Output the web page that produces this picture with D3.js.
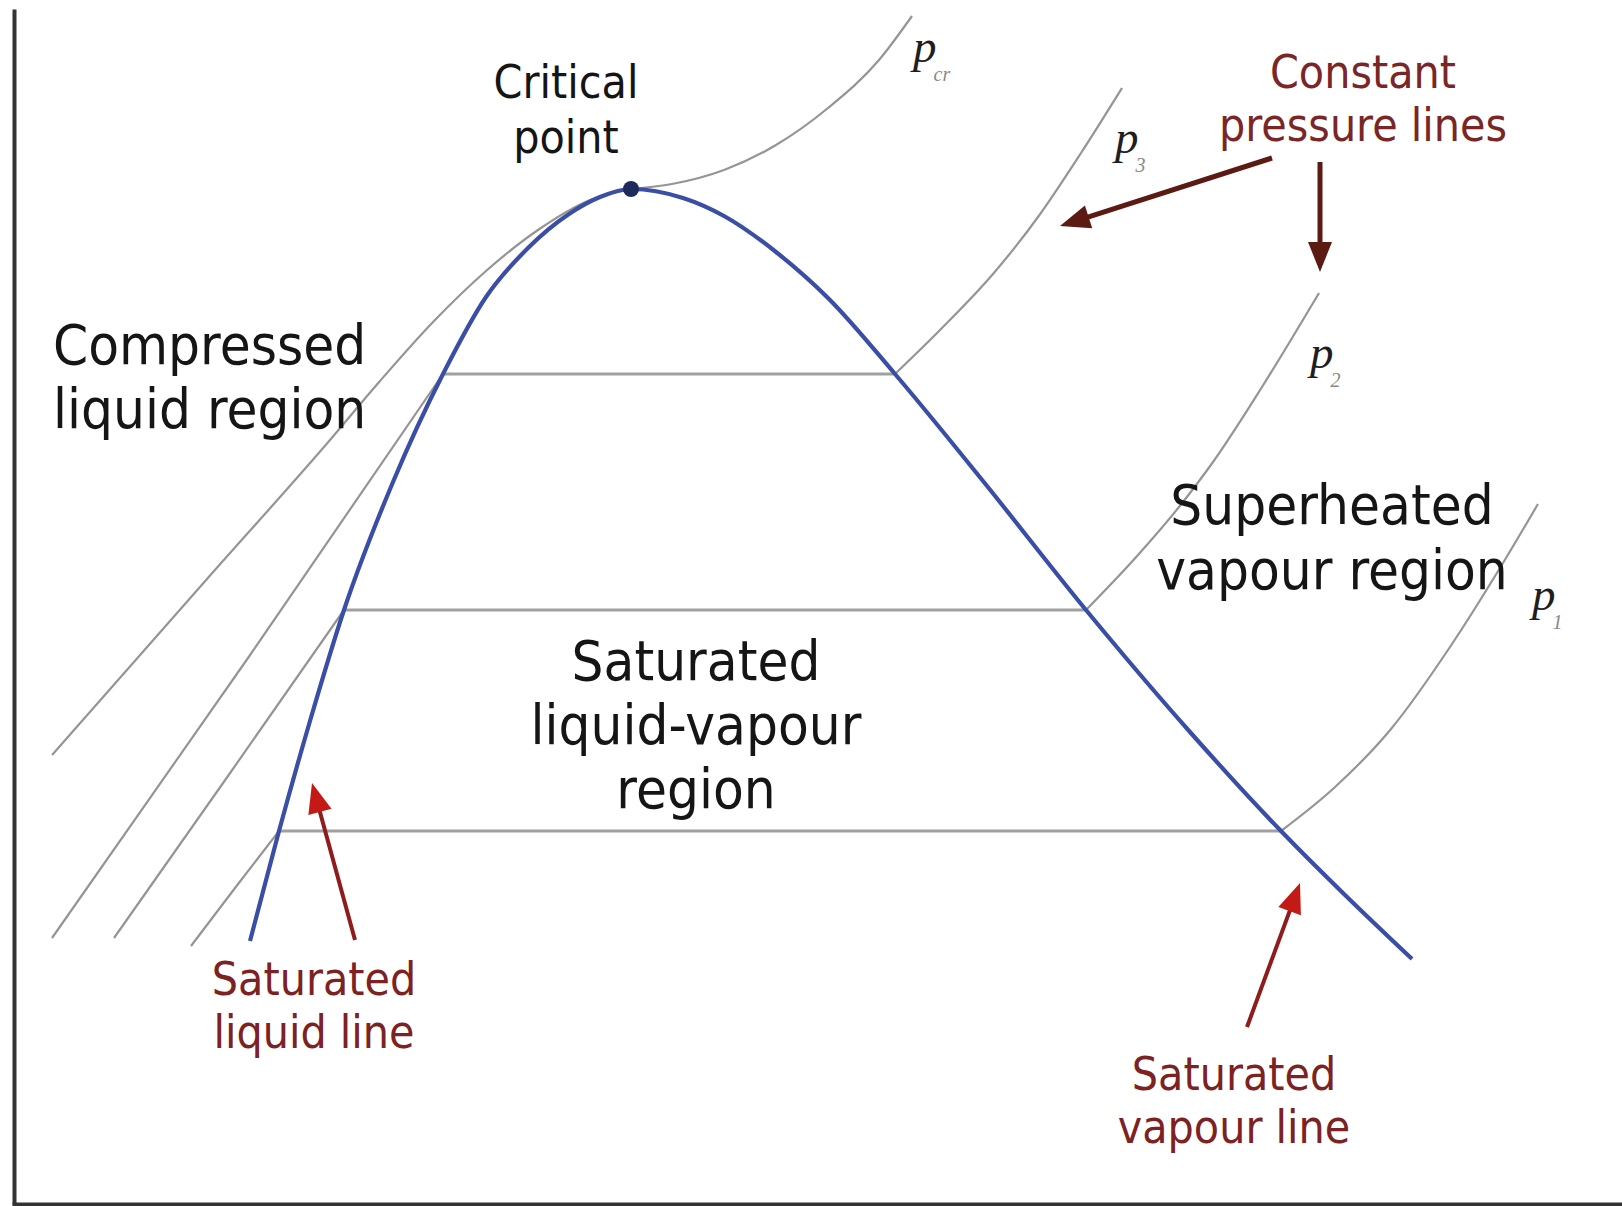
<!DOCTYPE html>
<html><head><meta charset="utf-8">
<script src="https://cdn.jsdelivr.net/npm/d3@7"></script>
<style>html,body{margin:0;padding:0;background:#fff;} svg{display:block;}</style>
</head><body>
<svg id="chart" width="1622" height="1206"></svg>
<script>
// ---------- data (entropy s, temperature T in arbitrary units) ----------
const saturationDome = [
  [1.18,1.315],[1.325,1.865],[1.48,2.415],[1.65,2.97],[1.895,3.61],[2.145,4.15],
  [2.36,4.535],[2.57,4.78],[2.775,4.95],[2.93,5.035],[3.085,5.075],
  [3.345,5.03],[3.55,4.94],[3.81,4.76],[4.07,4.53],[4.405,4.15],[4.845,3.615],
  [5.36,2.97],[5.88,2.36],[6.335,1.865],[6.655,1.545],[6.99,1.225]
];
const criticalPoint = [3.085, 5.075];

const pressureNames = ["cr", "3", "2", "1"];
const satTemps      = [5.075, 4.15, 2.97, 1.865];
const satLiquidS    = [3.085, 2.145, 1.65, 1.325];
const satVapourS    = [3.085, 4.405, 5.36, 6.335];

const pcrLiquid = [[0.19,2.245],[0.965,3.125],[1.58,3.82],[1.83,4.115],[2.1,4.415],[2.36,4.665],[2.62,4.87],[2.88,5.02],[3.085,5.075]];
const pcrVapour = [[3.085,5.075],[3.29,5.1],[3.55,5.17],[3.81,5.295],[4.07,5.48],[4.325,5.72],[4.49,5.94]];
const p3Liquid  = [[0.19,1.33],[1.17,2.73],[2.145,4.15]];
const p3Vapour  = [[4.405,4.15],[4.635,4.375],[4.895,4.65],[5.12,4.935],[5.335,5.255],[5.54,5.58]];
const p2Liquid  = [[0.5,1.33],[1.07,2.14],[1.65,2.97]];
const p2Vapour  = [[5.36,2.97],[5.62,3.245],[5.825,3.485],[5.995,3.71],[6.24,4.085],[6.525,4.555]];
const p1Liquid  = [[0.885,1.29],[1.105,1.58],[1.325,1.865]];
const p1Vapour  = [[6.335,1.865],[6.6,2.08],[6.885,2.375],[7.18,2.785],[7.445,3.205],[7.62,3.5]];

const liquidLines = [pcrLiquid, p3Liquid, p2Liquid, p1Liquid];
const vapourLines = [pcrVapour, p3Vapour, p2Vapour, p1Vapour];
const pressureLabelAt = [[4.495,5.71],[5.505,5.255],[6.48,4.18],[7.59,2.97]];

// text annotations
const regionTexts = [
  {lines:["Critical","point"], at:[2.76,5.53], anchor:"middle", size:46, lh:55, color:"#151515"},
  {lines:["Compressed","liquid region"], at:[0.195,4.2], anchor:"start", size:56, lh:64, color:"#151515"},
  {lines:["Saturated","liquid-vapour","region"], at:[3.41,2.62], anchor:"middle", size:56, lh:64, color:"#151515"},
  {lines:["Superheated","vapour region"], at:[6.59,3.4], anchor:"middle", size:56, lh:65, color:"#151515"},
  {lines:["Constant","pressure lines"], at:[6.745,5.58], anchor:"middle", size:46, lh:53, color:"#7a2626"},
  {lines:["Saturated","liquid line"], at:[1.5,1.045], anchor:"middle", size:46, lh:53, color:"#7d2222"},
  {lines:["Saturated","vapour line"], at:[6.1,0.57], anchor:"middle", size:46, lh:53, color:"#7d2222"}
];
const arrows = [
  {from:[6.29,5.23], to:[5.23,4.89], line:"#5b1a12", head:"#5b1a12", w:5},
  {from:[6.53,5.21], to:[6.53,4.66], line:"#5b1a12", head:"#5b1a12", w:5},
  {from:[1.705,1.32], to:[1.49,2.105], line:"#8e1c1c", head:"#c41a16", w:4},
  {from:[6.165,0.885], to:[6.43,1.605], line:"#8e1c1c", head:"#c41a16", w:4}
];

// ---------- drawing ----------
const svg = d3.select("#chart");
const x = d3.scaleLinear().domain([0, 8]).range([14, 1614]);
const y = d3.scaleLinear().domain([0, 6]).range([1204, 4]);

// axes (no ticks)
const yAxisScale = y.copy().domain([0, y.invert(9)]).range([1204, 9]);
const xAxisScale = x.copy().domain([x.invert(12), x.invert(1622)]).range([12, 1622]);
svg.append("g").attr("transform", `translate(${x(0)},0)`)
  .call(d3.axisLeft(yAxisScale).tickValues([]).tickSizeOuter(0));
svg.append("g").attr("transform", `translate(0,${y(0)})`)
  .call(d3.axisBottom(xAxisScale).tickValues([]).tickSizeOuter(0));
svg.selectAll(".domain").attr("stroke", "#333").attr("stroke-width", 4);

const curve = d3.line().x(d => x(d[0])).y(d => y(d[1])).curve(d3.curveMonotoneX);

// constant pressure lines
const gp = svg.append("g").attr("fill", "none");
liquidLines.forEach(l => gp.append("path").attr("d", curve(l)).attr("stroke", "#959595").attr("stroke-width", 2.2));
vapourLines.forEach(l => gp.append("path").attr("d", curve(l)).attr("stroke", "#959595").attr("stroke-width", 2.2));
satTemps.forEach((t, i) => {
  if (i === 0) return;
  gp.append("line")
    .attr("x1", x(satLiquidS[i])).attr("x2", x(satVapourS[i]))
    .attr("y1", y(t)).attr("y2", y(t))
    .attr("stroke", "#a0a0a0").attr("stroke-width", 3);
});

// saturation dome
svg.append("path").attr("d", curve(saturationDome))
  .attr("fill", "none").attr("stroke", "#3a4ea6").attr("stroke-width", 4.2);
svg.append("circle").attr("cx", x(criticalPoint[0])).attr("cy", y(criticalPoint[1]))
  .attr("r", 8).attr("fill", "#1d2b5a");

// pressure labels (p with subscript, one text each)
pressureNames.forEach((n, i) => {
  const [s, t] = pressureLabelAt[i];
  const tx = svg.append("text").attr("x", x(s)).attr("y", y(t))
    .attr("font-family", "'Liberation Serif', serif").attr("font-style", "italic")
    .attr("font-size", 47).attr("fill", "#1e1e1e");
  tx.append("tspan").text("p");
  tx.append("tspan").attr("dx", -3).attr("dy", 19)
    .attr("font-size", 20).attr("fill", "#888").text(n);
});

// text labels
regionTexts.forEach(r => {
  const t = svg.append("text")
    .attr("transform", `translate(${x(r.at[0])},${y(r.at[1])}) scale(0.9,1)`)
    .attr("font-family", "'DejaVu Sans', Verdana, sans-serif")
    .attr("font-size", r.size).attr("fill", r.color).attr("text-anchor", r.anchor);
  r.lines.forEach((ln, k) => {
    t.append("tspan").attr("x", 0).attr("y", k * r.lh).text(ln);
  });
});

// arrows
arrows.forEach(a => {
  const x1 = x(a.from[0]), y1 = y(a.from[1]), x2 = x(a.to[0]), y2 = y(a.to[1]);
  const dx = x2 - x1, dy = y2 - y1, L = Math.hypot(dx, dy);
  const ux = dx / L, uy = dy / L, hl = 30, hw = 12;
  const bx = x2 - ux * hl, by = y2 - uy * hl;
  svg.append("line").attr("x1", x1).attr("y1", y1).attr("x2", bx + ux * 4).attr("y2", by + uy * 4)
    .attr("stroke", a.line).attr("stroke-width", a.w);
  svg.append("path")
    .attr("d", `M${x2},${y2}L${bx - uy * hw},${by + ux * hw}L${bx + uy * hw},${by - ux * hw}Z`)
    .attr("fill", a.head);
});
</script>
</body></html>
